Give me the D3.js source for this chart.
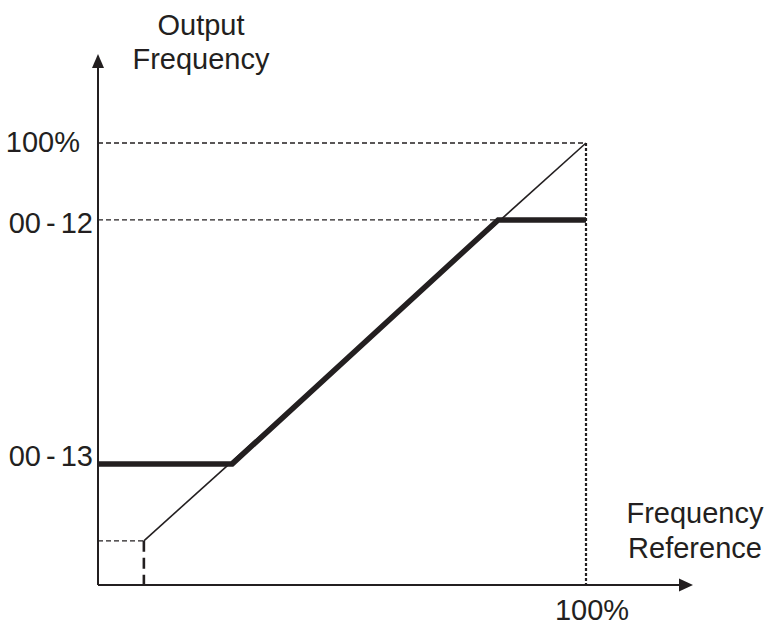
<!DOCTYPE html>
<html><head><meta charset="utf-8">
<script src="https://cdn.jsdelivr.net/npm/d3@7"></script>
<style>body{margin:0;background:#fff}svg{display:block}text{font-family:"Liberation Sans",Arial,sans-serif;fill:#231f20}</style>
</head><body>
<script>
// Data (percent of max)
const yTickLabels = ["100%", "00 - 12", "00 - 13"];
const yTickValues = [100, 82.6, 27.4];
const xTickLabels = ["100%"];
const xTickValues = [100];
const thinLine = [[9.4, 10], [100, 100]];           // reference -> frequency (y = x)
const outputLine = [[0, 27.4], [27.5, 27.4], [82, 82.6], [100, 82.6]]; // limited output
const lowerStart = [9.4, 10];
const yAxisTitle = ["Output", "Frequency"];
const xAxisTitle = ["Frequency", "Reference"];

const W = 766, H = 626, col = "#231f20";
const svg = d3.select("body").append("svg").attr("width", W).attr("height", H);
const x = d3.scaleLinear().domain([0, 100]).range([98, 586]);
const y = d3.scaleLinear().domain([0, 100]).range([585, 143]);

// axes
svg.append("line").attr("x1", x(0)).attr("x2", 681).attr("y1", y(0)).attr("y2", y(0)).attr("stroke", col).attr("stroke-width", 2);
svg.append("line").attr("x1", x(0)).attr("x2", x(0)).attr("y1", y(0)).attr("y2", 66).attr("stroke", col).attr("stroke-width", 2);
svg.append("path").attr("d", `M${x(0)},54 L${x(0)-6},68 L${x(0)+6},68 Z`).attr("fill", col);
svg.append("path").attr("d", `M693,${y(0)} L679,${y(0)-6.5} L679,${y(0)+6.5} Z`).attr("fill", col);

// dashed guides
svg.append("line").attr("x1", x(0)).attr("x2", x(100)).attr("y1", y(100)).attr("y2", y(100))
  .attr("stroke", col).attr("stroke-width", 1.3).attr("stroke-dasharray", "5,3");
svg.append("line").attr("x1", x(0)).attr("x2", x(outputLine[2][0])).attr("y1", y(82.6)).attr("y2", y(82.6))
  .attr("stroke", col).attr("stroke-width", 1.3).attr("stroke-dasharray", "5,3");
svg.append("line").attr("x1", x(100)).attr("x2", x(100)).attr("y1", y(100)).attr("y2", y(0))
  .attr("stroke", col).attr("stroke-width", 2.2).attr("stroke-dasharray", "3,2");
svg.append("line").attr("x1", x(0)).attr("x2", x(lowerStart[0])).attr("y1", y(lowerStart[1])).attr("y2", y(lowerStart[1]))
  .attr("stroke", col).attr("stroke-width", 1.3).attr("stroke-dasharray", "5,3");
svg.append("line").attr("x1", x(lowerStart[0])).attr("x2", x(lowerStart[0])).attr("y1", y(lowerStart[1])).attr("y2", y(0))
  .attr("stroke", col).attr("stroke-width", 2.6).attr("stroke-dasharray", "11,6");

const line = d3.line().x(d => x(d[0])).y(d => y(d[1]));
svg.append("path").attr("d", line(thinLine)).attr("fill", "none").attr("stroke", col).attr("stroke-width", 1.6);
svg.append("path").attr("d", line(outputLine)).attr("fill", "none").attr("stroke", col).attr("stroke-width", 5.5).attr("stroke-linejoin", "miter");

// labels
const fs = 29;
const yOff = [9, 13, 2];
const xEnd = [80, 93, 93];
yTickLabels.forEach((t, i) => {
  svg.append("text").attr("x", xEnd[i]).attr("y", y(yTickValues[i]) + yOff[i]).attr("text-anchor", "end")
    .attr("font-size", fs).attr("word-spacing", -3).text(t);
});
xTickLabels.forEach((t, i) => {
  svg.append("text").attr("x", x(xTickValues[i]) + 6).attr("y", 620).attr("text-anchor", "middle").attr("font-size", fs).text(t);
});
yAxisTitle.forEach((t, i) => {
  svg.append("text").attr("x", 201).attr("y", 35 + i * 33.5).attr("text-anchor", "middle").attr("font-size", fs).text(t);
});
xAxisTitle.forEach((t, i) => {
  svg.append("text").attr("x", 695).attr("y", 523 + i * 35).attr("text-anchor", "middle").attr("font-size", fs).text(t);
});
</script>
</body></html>
